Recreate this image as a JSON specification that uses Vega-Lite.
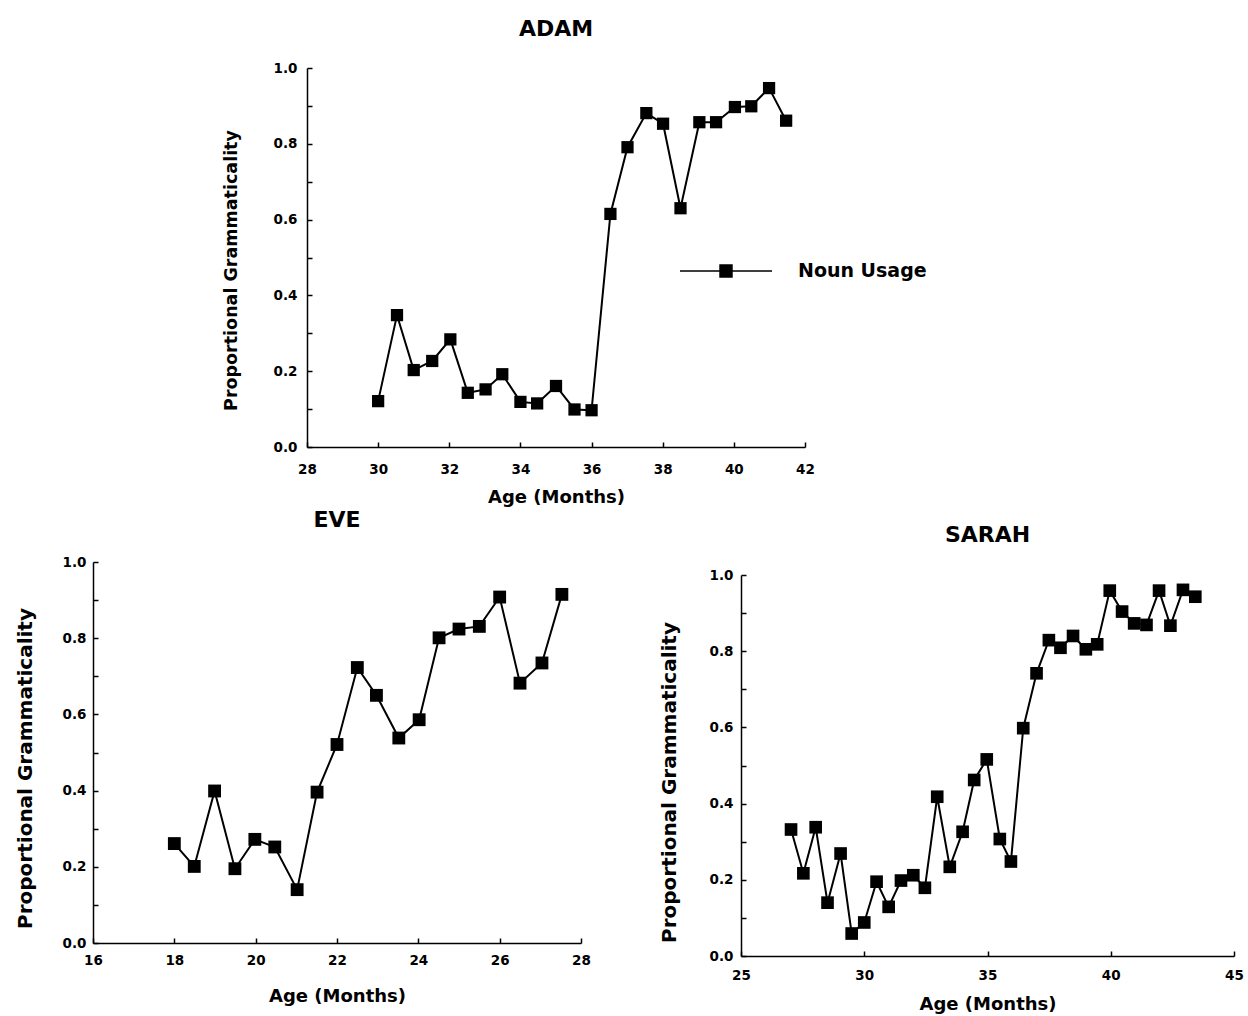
{
  "$schema": "https://vega.github.io/schema/vega-lite/v6.json",
  "padding": {"left": 15, "top": 18, "right": 0, "bottom": 0},
  "background": "white",
  "datasets": {
    "adam": [
      {"age": 30.0, "prop": 0.121, "measure": "Noun Usage"},
      {"age": 30.53, "prop": 0.348, "measure": "Noun Usage"},
      {"age": 31.0, "prop": 0.203, "measure": "Noun Usage"},
      {"age": 31.52, "prop": 0.227, "measure": "Noun Usage"},
      {"age": 32.03, "prop": 0.284, "measure": "Noun Usage"},
      {"age": 32.52, "prop": 0.143, "measure": "Noun Usage"},
      {"age": 33.02, "prop": 0.152, "measure": "Noun Usage"},
      {"age": 33.49, "prop": 0.192, "measure": "Noun Usage"},
      {"age": 34.0, "prop": 0.119, "measure": "Noun Usage"},
      {"age": 34.47, "prop": 0.115, "measure": "Noun Usage"},
      {"age": 35.0, "prop": 0.161, "measure": "Noun Usage"},
      {"age": 35.52, "prop": 0.099, "measure": "Noun Usage"},
      {"age": 36.0, "prop": 0.097, "measure": "Noun Usage"},
      {"age": 36.53, "prop": 0.615, "measure": "Noun Usage"},
      {"age": 37.01, "prop": 0.791, "measure": "Noun Usage"},
      {"age": 37.54, "prop": 0.881, "measure": "Noun Usage"},
      {"age": 38.01, "prop": 0.853, "measure": "Noun Usage"},
      {"age": 38.5, "prop": 0.630, "measure": "Noun Usage"},
      {"age": 39.03, "prop": 0.857, "measure": "Noun Usage"},
      {"age": 39.5, "prop": 0.857, "measure": "Noun Usage"},
      {"age": 40.03, "prop": 0.897, "measure": "Noun Usage"},
      {"age": 40.49, "prop": 0.899, "measure": "Noun Usage"},
      {"age": 40.99, "prop": 0.947, "measure": "Noun Usage"},
      {"age": 41.47, "prop": 0.861, "measure": "Noun Usage"}
    ],
    "eve": [
      {"age": 18.0, "prop": 0.261},
      {"age": 18.49, "prop": 0.201},
      {"age": 18.99, "prop": 0.399},
      {"age": 19.49, "prop": 0.195},
      {"age": 19.98, "prop": 0.272},
      {"age": 20.47, "prop": 0.252},
      {"age": 21.02, "prop": 0.140},
      {"age": 21.51, "prop": 0.396},
      {"age": 22.0, "prop": 0.521},
      {"age": 22.5, "prop": 0.723},
      {"age": 22.97, "prop": 0.650},
      {"age": 23.52, "prop": 0.538},
      {"age": 24.02, "prop": 0.586},
      {"age": 24.51, "prop": 0.801},
      {"age": 25.0, "prop": 0.824},
      {"age": 25.5, "prop": 0.831},
      {"age": 26.0, "prop": 0.908},
      {"age": 26.5, "prop": 0.682},
      {"age": 27.04, "prop": 0.735},
      {"age": 27.53, "prop": 0.915}
    ],
    "sarah": [
      {"age": 27.03, "prop": 0.332},
      {"age": 27.53, "prop": 0.217},
      {"age": 28.03, "prop": 0.338},
      {"age": 28.51, "prop": 0.140},
      {"age": 29.04, "prop": 0.269},
      {"age": 29.49, "prop": 0.059},
      {"age": 30.0, "prop": 0.088},
      {"age": 30.5, "prop": 0.195},
      {"age": 30.99, "prop": 0.129},
      {"age": 31.49, "prop": 0.198},
      {"age": 31.99, "prop": 0.212},
      {"age": 32.46, "prop": 0.179},
      {"age": 32.96, "prop": 0.418},
      {"age": 33.47, "prop": 0.234},
      {"age": 33.99, "prop": 0.326},
      {"age": 34.46, "prop": 0.462},
      {"age": 34.97, "prop": 0.516},
      {"age": 35.5, "prop": 0.307},
      {"age": 35.95, "prop": 0.248},
      {"age": 36.45, "prop": 0.598},
      {"age": 36.99, "prop": 0.742},
      {"age": 37.49, "prop": 0.829},
      {"age": 37.96, "prop": 0.809},
      {"age": 38.47, "prop": 0.840},
      {"age": 38.99, "prop": 0.805},
      {"age": 39.45, "prop": 0.818},
      {"age": 39.96, "prop": 0.959},
      {"age": 40.46, "prop": 0.904},
      {"age": 40.95, "prop": 0.873},
      {"age": 41.45, "prop": 0.869},
      {"age": 41.96, "prop": 0.959},
      {"age": 42.42, "prop": 0.867},
      {"age": 42.93, "prop": 0.961},
      {"age": 43.43, "prop": 0.943}
    ]
  },
  "config": {
    "view": {"stroke": null},
    "font": "DejaVu Sans",
    "axis": {
      "grid": false,
      "domainColor": "black",
      "domainWidth": 1.5,
      "tickColor": "black",
      "tickWidth": 1.5,
      "tickSize": -5,
      "labelFont": "DejaVu Sans",
      "labelFontWeight": "bold",
      "labelFontSize": 13.5,
      "labelColor": "black",
      "labelFlush": false,
      "labelOverlap": false,
      "labelBound": false,
      "titleFont": "DejaVu Sans",
      "titleFontWeight": "bold",
      "titleColor": "black"
    },
    "title": {"font": "DejaVu Sans", "fontWeight": "bold", "fontSize": 22, "color": "black", "anchor": "middle"}
  },
  "resolve": {"scale": {"color": "independent"}, "legend": {"color": "independent"}},
  "spacing": 2,
  "vconcat": [
    {
      "bounds": "flush",
      "spacing": 200,
      "resolve": {"scale": {"color": "independent"}, "legend": {"color": "independent"}},
      "hconcat": [
        {
          "width": 14,
          "height": 10,
          "data": {"values": [{}]},
          "mark": {"type": "point", "opacity": 0},
          "encoding": {}
        },
        {
          "width": 498,
          "height": 379,
          "title": {"text": "ADAM", "offset": 20},
          "data": {"name": "adam"},
          "encoding": {
            "x": {
              "field": "age",
              "type": "quantitative",
              "scale": {"domain": [28, 42], "nice": false, "zero": false},
              "axis": {"values": [28, 30, 32, 34, 36, 38, 40, 42], "format": "d", "title": "Age (Months)", "titleFontSize": 18, "labelPadding": 20, "titlePadding": 13}
            },
            "y": {
              "field": "prop",
              "type": "quantitative",
              "scale": {"domain": [0, 1], "nice": false},
              "axis": {
                "values": [0, 0.1, 0.2, 0.3, 0.4, 0.5, 0.6, 0.7, 0.8, 0.9, 1.0],
                "labelExpr": "round(datum.value*10) % 2 == 0 ? format(datum.value, '.1f') : ''",
                "title": "Proportional Grammaticality",
                "titleFontSize": 17.5,
                "labelPadding": 15,
                "titlePadding": 33,
                "titleY": 202
              }
            }
          },
          "layer": [
            {"mark": {"type": "line", "color": "black", "strokeWidth": 2}},
            {
              "mark": {"type": "point", "shape": "square", "filled": true, "size": 150, "opacity": 1},
              "encoding": {
                "color": {
                  "field": "measure",
                  "type": "nominal",
                  "scale": {"range": ["black"]},
                  "legend": {
                    "title": null,
                    "orient": "none",
                    "legendX": 372,
                    "legendY": 156,
                    "symbolType": "M-1,0H1M-0.13,-0.13H0.13V0.13H-0.13Z",
                    "symbolSize": 8464,
                    "symbolStrokeWidth": 1.5,
                    "symbolStrokeColor": "black",
                    "symbolFillColor": "black",
                    "labelFont": "DejaVu Sans",
                    "labelFontWeight": "bold",
                    "labelFontSize": 19,
                    "labelColor": "black",
                    "labelOffset": 25
                  }
                }
              }
            }
          ]
        }
      ]
    },
    {
      "bounds": "flush",
      "spacing": 160,
      "hconcat": [
        {
          "width": 488,
          "height": 381,
          "title": {"text": "EVE", "offset": 23},
          "data": {"name": "eve"},
          "encoding": {
            "x": {
              "field": "age",
              "type": "quantitative",
              "scale": {"domain": [16, 28], "nice": false, "zero": false},
              "axis": {"values": [16, 18, 20, 22, 24, 26, 28], "format": "d", "title": "Age (Months)", "titleFontSize": 18, "labelPadding": 15, "titlePadding": 21}
            },
            "y": {
              "field": "prop",
              "type": "quantitative",
              "scale": {"domain": [0, 1], "nice": false},
              "axis": {
                "values": [0, 0.1, 0.2, 0.3, 0.4, 0.5, 0.6, 0.7, 0.8, 0.9, 1.0],
                "labelExpr": "round(datum.value*10) % 2 == 0 ? format(datum.value, '.1f') : ''",
                "title": "Proportional Grammaticality",
                "titleFontSize": 20,
                "labelPadding": 12,
                "titlePadding": 27,
                "titleY": 206
              }
            }
          },
          "layer": [
            {"mark": {"type": "line", "color": "black", "strokeWidth": 2}},
            {"mark": {"type": "point", "shape": "square", "filled": true, "size": 165, "opacity": 1, "color": "black"}}
          ]
        },
        {
          "bounds": "flush",
          "spacing": 0,
          "vconcat": [
            {
              "width": 493,
              "height": 13,
              "data": {"values": [{}]},
              "mark": {"type": "point", "opacity": 0},
              "encoding": {}
            },
            {
              "width": 493,
              "height": 381,
              "title": {"text": "SARAH", "offset": 21},
              "data": {"name": "sarah"},
              "encoding": {
                "x": {
                  "field": "age",
                  "type": "quantitative",
                  "scale": {"domain": [25, 45], "nice": false, "zero": false},
                  "axis": {"values": [25, 30, 35, 40, 45], "format": "d", "title": "Age (Months)", "titleFontSize": 18, "labelPadding": 17, "titlePadding": 14}
                },
                "y": {
                  "field": "prop",
                  "type": "quantitative",
                  "scale": {"domain": [0, 1], "nice": false},
                  "axis": {
                    "values": [0, 0.1, 0.2, 0.3, 0.4, 0.5, 0.6, 0.7, 0.8, 0.9, 1.0],
                    "labelExpr": "round(datum.value*10) % 2 == 0 ? format(datum.value, '.1f') : ''",
                    "title": "Proportional Grammaticality",
                    "titleFontSize": 20,
                    "labelPadding": 13,
                    "titlePadding": 30,
                    "titleY": 207
                  }
                }
              },
              "layer": [
                {"mark": {"type": "line", "color": "black", "strokeWidth": 2}},
                {"mark": {"type": "point", "shape": "square", "filled": true, "size": 160, "opacity": 1, "color": "black"}}
              ]
            }
          ]
        }
      ]
    }
  ]
}
